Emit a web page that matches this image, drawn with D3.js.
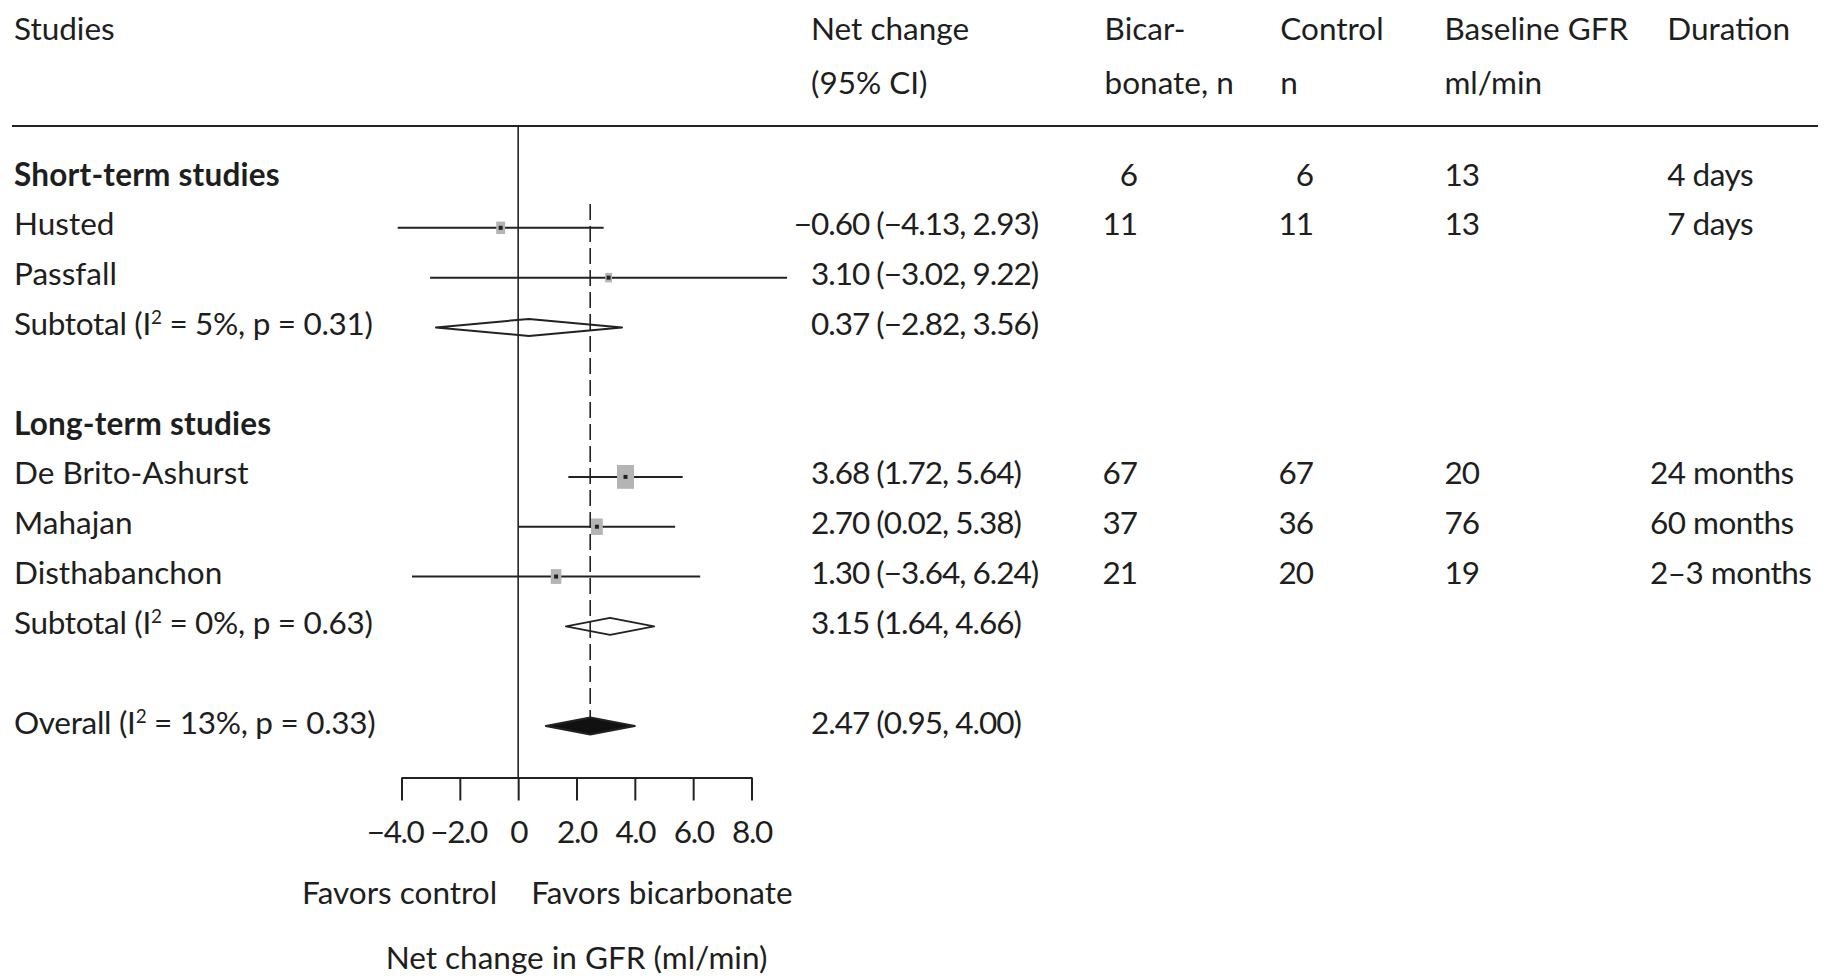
<!DOCTYPE html>
<html>
<head>
<meta charset="utf-8">
<script src="https://cdn.jsdelivr.net/npm/d3@7"></script>
<style>
  html, body { margin: 0; padding: 0; background: #fff; }
  svg { display: block; }
  text { font-family: Lato, "Open Sans", sans-serif; fill: #1e1e1e; }
  .num { letter-spacing: -1px; }
</style>
</head>
<body>
<svg id="chart" width="1825" height="979"></svg>
<script>
// rows of the plot, top to bottom (gap rows are empty)
const rowKeys = ["hdrShort", "Husted", "Passfall", "subShort", "gap1",
  "hdrLong", "De Brito-Ashurst", "Mahajan", "Disthabanchon", "subLong", "gap2", "overall"];

const groupKeys = ["hdrShort", "hdrLong"];
const groupLabels = ["Short-term studies", "Long-term studies"];

// individual studies
const studies = ["Husted", "Passfall", "De Brito-Ashurst", "Mahajan", "Disthabanchon"];
const estimate = [-0.60, 3.10, 3.68, 2.70, 1.30];
const lower = [-4.13, -3.02, 1.72, 0.02, -3.64];
const upper = [2.93, 9.22, 5.64, 5.38, 6.24];
const weight = [12, 7, 44, 21, 17];

// pooled estimates
const pooledKeys = ["subShort", "subLong", "overall"];
const pooledName = ["Subtotal", "Subtotal", "Overall"];
const pooledI2 = [5, 0, 13];
const pooledP = ["0.31", "0.63", "0.33"];
const pooledEst = [0.37, 3.15, 2.47];
const pooledLo = [-2.82, 1.64, 0.95];
const pooledHi = [3.56, 4.66, 4.00];

// right-hand table, as it is printed
const tableRows = ["hdrShort", "Husted", "De Brito-Ashurst", "Mahajan", "Disthabanchon"];
const bicarbN = [6, 11, 67, 37, 21];
const controlN = [6, 11, 67, 36, 20];
const baselineGfr = [13, 13, 20, 76, 19];
const duration = ["4 days", "7 days", "24 months", "60 months", "2–3 months"];

const axisTicks = [-4, -2, 0, 2, 4, 6, 8];

const FS = 31.5;
const BASE = 7.5; // baseline below the row line
const f2 = d3.format(".2f");
const ciText = (e, l, h) => `${f2(e)} (${f2(l)}, ${f2(h)})`;

const svg = d3.select("#chart");
svg.append("rect").attr("width", 1825).attr("height", 979).attr("fill", "#fff");

const x = d3.scaleLinear().domain([-4, 8]).range([401.5, 751.5]);
const y = d3.scalePoint().domain(rowKeys).range([178, 726]);
const box = d3.scaleSqrt().domain([0, d3.max(weight)]).range([0, 17]);

// measuring helper for hanging minus signs
function textWidth(s, cls) {
  const t = svg.append("text").attr("class", cls || null).style("font-size", FS + "px").text(s);
  const w = t.node().getComputedTextLength();
  t.remove();
  return w;
}
const minusW = textWidth("−", "num");
const digitW = textWidth("2", "num");

const col = { label: 14, est: 811, bicHead: 1104.6, bic: 1137, ctlHead: 1280.3, ctl: 1313, gfr: 1444.4, dur: 1650 };

// header
const head = svg.append("g").style("font-size", FS + "px");
const headRow1 = [["Studies", col.label], ["Net change", col.est], ["Bicar-", col.bicHead], ["Control", col.ctlHead], ["Baseline GFR", col.gfr], ["Duration", col.dur + digitW]];
const headRow2 = [["(95% CI)", col.est], ["bonate, n", col.bicHead], ["n", col.ctlHead], ["ml/min", col.gfr]];
head.selectAll("text.h1").data(headRow1).join("text").attr("class", "h1")
  .attr("x", d => d[1]).attr("y", 40).text(d => d[0]);
head.selectAll("text.h2").data(headRow2).join("text").attr("class", "h2")
  .attr("x", d => d[1]).attr("y", 94).text(d => d[0]);
svg.append("line").attr("x1", 12).attr("x2", 1818).attr("y1", 126).attr("y2", 126)
  .attr("stroke", "#222").attr("stroke-width", 2.2);

// reference lines
svg.append("line").attr("x1", x(0)).attr("x2", x(0)).attr("y1", 126).attr("y2", 777.5)
  .attr("stroke", "#222").attr("stroke-width", 1.6);
svg.append("line").attr("x1", x(pooledEst[2])).attr("x2", x(pooledEst[2]))
  .attr("y1", 204).attr("y2", y("overall"))
  .attr("stroke", "#222").attr("stroke-width", 1.6).attr("stroke-dasharray", "16,6");

// study labels
const labels = svg.append("g").style("font-size", FS + "px");
labels.selectAll("text.grp").data(groupKeys).join("text").attr("class", "grp")
  .attr("x", col.label).attr("y", d => y(d) + BASE).style("font-weight", "bold")
  .style("letter-spacing", "0.2px")
  .text((d, i) => groupLabels[i]);
labels.selectAll("text.study").data(studies).join("text").attr("class", "study")
  .attr("x", col.label).attr("y", d => y(d) + BASE).text(d => d);
const pl = labels.selectAll("text.pooled").data(pooledKeys).join("text").attr("class", "pooled")
  .attr("x", col.label).attr("y", d => y(d) + BASE).style("letter-spacing", "-0.3px");
pl.append("tspan").text((d, i) => pooledName[i] + " (I");
pl.append("tspan").attr("dy", -11).style("font-size", (FS * 0.6) + "px").text("2");
pl.append("tspan").attr("dy", 11).text((d, i) => ` = ${pooledI2[i]}%, p = ${pooledP[i]})`);

// CI lines and boxes
const marks = svg.append("g");
marks.selectAll("line.ci").data(studies).join("line").attr("class", "ci")
  .attr("x1", (d, i) => x(lower[i])).attr("x2", (d, i) => x(upper[i]))
  .attr("y1", d => y(d)).attr("y2", d => y(d))
  .attr("stroke", "#222").attr("stroke-width", 2);
marks.selectAll("rect.box").data(studies).join("rect").attr("class", "box")
  .attr("x", (d, i) => x(estimate[i]) - box(weight[i]) / 2)
  .attr("y", (d, i) => y(d) - box(weight[i]) * 1.4 / 2)
  .attr("width", (d, i) => box(weight[i]))
  .attr("height", (d, i) => box(weight[i]) * 1.4)
  .attr("fill", "#b4b4b4");
marks.selectAll("rect.dot").data(studies).join("rect").attr("class", "dot")
  .attr("x", (d, i) => x(estimate[i]) - 2).attr("y", d => y(d) - 2)
  .attr("width", 4).attr("height", 4).attr("fill", "#222");

// diamonds
const DH = 8.5;
marks.selectAll("path.diamond").data(pooledKeys).join("path").attr("class", "diamond")
  .attr("d", (d, i) => {
    const cy = y(d);
    return `M${x(pooledLo[i])},${cy}L${x(pooledEst[i])},${cy - DH}L${x(pooledHi[i])},${cy}L${x(pooledEst[i])},${cy + DH}Z`;
  })
  .attr("fill", (d, i) => (i === 2 ? "#111" : "none"))
  .attr("stroke", "#222").attr("stroke-width", 2).attr("stroke-linejoin", "round");

// estimate column
const estCol = svg.append("g").style("font-size", FS + "px");
estCol.selectAll("text.est").data(studies).join("text").attr("class", "est num")
  .attr("x", (d, i) => col.est - (estimate[i] < 0 ? minusW : 0))
  .attr("y", d => y(d) + BASE)
  .text((d, i) => ciText(estimate[i], lower[i], upper[i]));
estCol.selectAll("text.pest").data(pooledKeys).join("text").attr("class", "pest num")
  .attr("x", (d, i) => col.est - (pooledEst[i] < 0 ? minusW : 0))
  .attr("y", d => y(d) + BASE)
  .text((d, i) => ciText(pooledEst[i], pooledLo[i], pooledHi[i]));

// table columns
const tbl = svg.append("g").style("font-size", FS + "px");
tbl.selectAll("text.bic").data(tableRows).join("text").attr("class", "bic num")
  .attr("x", col.bic).attr("y", d => y(d) + BASE).attr("text-anchor", "end")
  .text((d, i) => bicarbN[i]);
tbl.selectAll("text.ctl").data(tableRows).join("text").attr("class", "ctl num")
  .attr("x", col.ctl).attr("y", d => y(d) + BASE).attr("text-anchor", "end")
  .text((d, i) => controlN[i]);
tbl.selectAll("text.gfr").data(tableRows).join("text").attr("class", "gfr num")
  .attr("x", col.gfr).attr("y", d => y(d) + BASE)
  .text((d, i) => baselineGfr[i]);
tbl.selectAll("text.dur").data(tableRows).join("text").attr("class", "dur")
  .attr("x", (d, i) => col.dur + (/^\d /.test(duration[i]) ? digitW : 0))
  .attr("y", d => y(d) + BASE)
  .style("letter-spacing", "-0.5px")
  .text((d, i) => duration[i]);

// x axis
const axisY = 777.5;
const gx = svg.append("g").attr("transform", `translate(0,${axisY})`)
  .call(d3.axisBottom(x).tickValues(axisTicks).tickSize(23).tickPadding(20).tickSizeOuter(0)
    .tickFormat(d => (d === 0 ? "0" : d3.format(".1f")(d))));
gx.select(".domain").attr("stroke", "#222").attr("stroke-width", 2);
gx.selectAll(".tick line").attr("stroke", "#222").attr("stroke-width", 2);
gx.selectAll(".tick text").attr("class", "num").style("font-size", FS + "px").style("font-family", null).attr("fill", null)
  .style("letter-spacing", "-1.4px")
  .attr("dx", d => (d === -4 ? -minusW * 0.4 : d < 0 ? -minusW * 0.1 : 0));

const foot = svg.append("g").style("font-size", FS + "px");
foot.append("text").attr("x", x(0) - 21).attr("y", 904).attr("text-anchor", "end").text("Favors control");
foot.append("text").attr("x", x(0) + 13).attr("y", 904).text("Favors bicarbonate");
foot.append("text").attr("x", (x(-4) + x(8)) / 2).attr("y", 969).attr("text-anchor", "middle")
  .text("Net change in GFR (ml/min)");
</script>
</body>
</html>
